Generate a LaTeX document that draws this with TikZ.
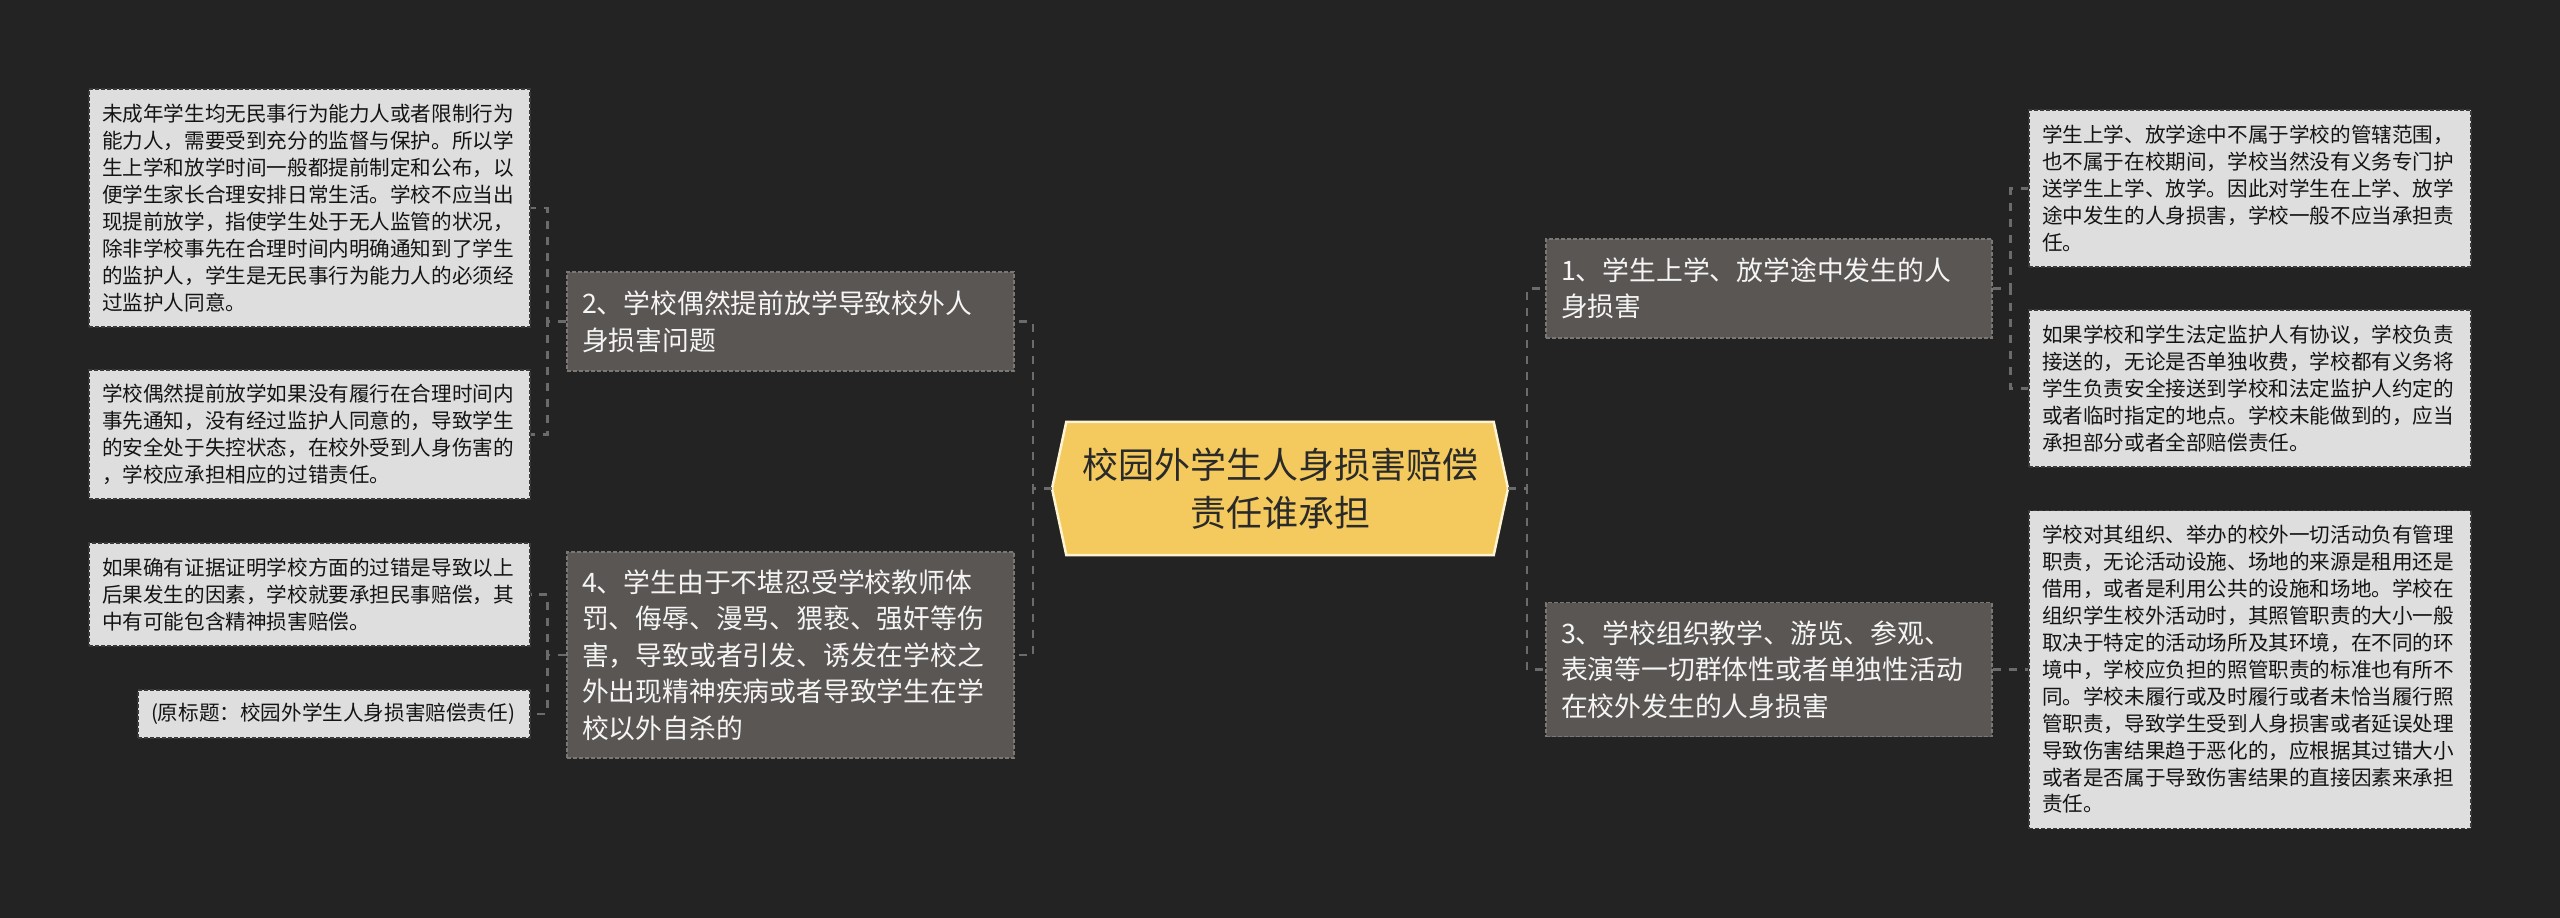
\documentclass[tikz,border=0pt]{standalone}
\usepackage{fontspec}
\setmainfont{Noto Sans CJK SC}
\definecolor{bgc}{HTML}{232323}
\definecolor{darkfill}{HTML}{5A5654}
\definecolor{darkline}{HTML}{7A7775}
\definecolor{leaffill}{HTML}{DEDEDE}
\definecolor{leafline}{HTML}{3A3A3A}
\definecolor{cfill}{HTML}{F4CA5E}
\definecolor{cline}{HTML}{FFF4D2}
\definecolor{conn}{HTML}{6B6B6B}
\definecolor{ctext}{HTML}{2A2A2A}
\begin{document}
\begin{tikzpicture}[x=1pt,y=-1pt,
  leaf/.style={draw=leafline, line width=1.3pt, dash pattern=on 4pt off 2pt, fill=leaffill,
    text=black!92, align=left, inner xsep=13pt, inner ysep=0pt,
    font=\fontsize{20.6}{26.9}\selectfont},
  branch/.style={draw=darkline, line width=1.2pt, dash pattern=on 4pt off 2pt, fill=darkfill,
    text=white!96!black, align=left, inner xsep=15pt, inner ysep=0pt,
    font=\fontsize{26.8}{36.6}\selectfont},
  connline/.style={draw=conn, line width=2.4pt, dash pattern=on 8pt off 8pt}
]
\useasboundingbox (0,0) rectangle (2560,918);
\fill[bgc] (0,0) rectangle (2560,918);

% center
\node[minimum width=427pt, minimum height=133pt, inner sep=0pt] (c) at (1280,488.5) {};
\coordinate (cW) at (1052,488.5);
\coordinate (cE) at (1508,488.5);
\filldraw[fill=cfill, draw=cline, line width=2.5pt]
  (c.north west) -- (c.north east) -- (cE) -- (c.south east) -- (c.south west) -- (cW) -- cycle;
\node[align=center, text=ctext, font=\fontsize{36}{48}\selectfont] (ct) at (c.center)
  {校园外学生人身损害赔偿\\责任谁承担};

% left branches
\node[branch, text width=417pt, minimum height=99pt] (n2) at (790.5,321.5)
  {2、学校偶然提前放学导致校外人\\身损害问题};
\node[branch, text width=417pt, minimum height=206pt] (n4) at (790.5,655)
  {4、学生由于不堪忍受学校教师体\\罚、侮辱、漫骂、猥亵、强奸等伤\\害，导致或者引发、诱发在学校之\\外出现精神疾病或者导致学生在学\\校以外自杀的};

% right branches
\node[branch, text width=416pt, minimum height=99pt] (n1) at (1769,288.5)
  {1、学生上学、放学途中发生的人\\身损害};
\node[branch, text width=416pt, minimum height=134pt] (n3) at (1769,669.5)
  {3、学校组织教学、游览、参观、\\表演等一切群体性或者单独性活动\\在校外发生的人身损害};

% left leaves
\node[leaf, text width=415pt, minimum height=238pt] (l1) at (309.5,208)
  {未成年学生均无民事行为能力人或者限制行为\\能力人，需要受到充分的监督与保护。所以学\\生上学和放学时间一般都提前制定和公布，以\\便学生家长合理安排日常生活。学校不应当出\\现提前放学，指使学生处于无人监管的状况，\\除非学校事先在合理时间内明确通知到了学生\\的监护人，学生是无民事行为能力人的必须经\\过监护人同意。};
\node[leaf, text width=415pt, minimum height=129pt] (l2) at (309.5,434.5)
  {学校偶然提前放学如果没有履行在合理时间内\\事先通知，没有经过监护人同意的，导致学生\\的安全处于失控状态，在校外受到人身伤害的\\，学校应承担相应的过错责任。};
\node[leaf, text width=415pt, minimum height=103pt] (l3) at (309.5,594.5)
  {如果确有证据证明学校方面的过错是导致以上\\后果发生的因素，学校就要承担民事赔偿，其\\中有可能包含精神损害赔偿。};
\node[leaf, text width=366pt, minimum height=48pt] (l4) at (334,714)
  {(原标题：校园外学生人身损害赔偿责任)};

% right leaves
\node[leaf, text width=416pt, minimum height=157pt] (r1) at (2250,188.5)
  {学生上学、放学途中不属于学校的管辖范围，\\也不属于在校期间，学校当然没有义务专门护\\送学生上学、放学。因此对学生在上学、放学\\途中发生的人身损害，学校一般不应当承担责\\任。};
\node[leaf, text width=416pt, minimum height=157pt] (r2) at (2250,388.5)
  {如果学校和学生法定监护人有协议，学校负责\\接送的，无论是否单独收费，学校都有义务将\\学生负责安全接送到学校和法定监护人约定的\\或者临时指定的地点。学校未能做到的，应当\\承担部分或者全部赔偿责任。};
\node[leaf, text width=416pt, minimum height=318pt] (r3) at (2250,669.5)
  {学校对其组织、举办的校外一切活动负有管理\\职责，无论活动设施、场地的来源是租用还是\\借用，或者是利用公共的设施和场地。学校在\\组织学生校外活动时，其照管职责的大小一般\\取决于特定的活动场所及其环境，在不同的环\\境中，学校应负担的照管职责的标准也有所不\\同。学校未履行或及时履行或者未恰当履行照\\管职责，导致学生受到人身损害或者延误处理\\导致伤害结果趋于恶化的，应根据其过错大小\\或者是否属于导致伤害结果的直接因素来承担\\责任。};

% connectors
\draw[connline] (cW) -- ++(-19,0) |- (n2.east);
\draw[connline] (cW) -- ++(-19,0) |- (n4.east);
\draw[connline] (cE) -- ++(19,0) |- (n1.west);
\draw[connline] (cE) -- ++(19,0) |- (n3.west);
\draw[connline] (n2.west) -- ++(-19,0) |- (l1.east);
\draw[connline] (n2.west) -- ++(-19,0) |- (l2.east);
\draw[connline] (n4.west) -- ++(-19,0) |- (l3.east);
\draw[connline] (n4.west) -- ++(-19,0) |- (l4.east);
\draw[connline] (n1.east) -- ++(18,0) |- (r1.west);
\draw[connline] (n1.east) -- ++(18,0) |- (r2.west);
\draw[connline] (n3.east) -- (r3.west);
\end{tikzpicture}
\end{document}
